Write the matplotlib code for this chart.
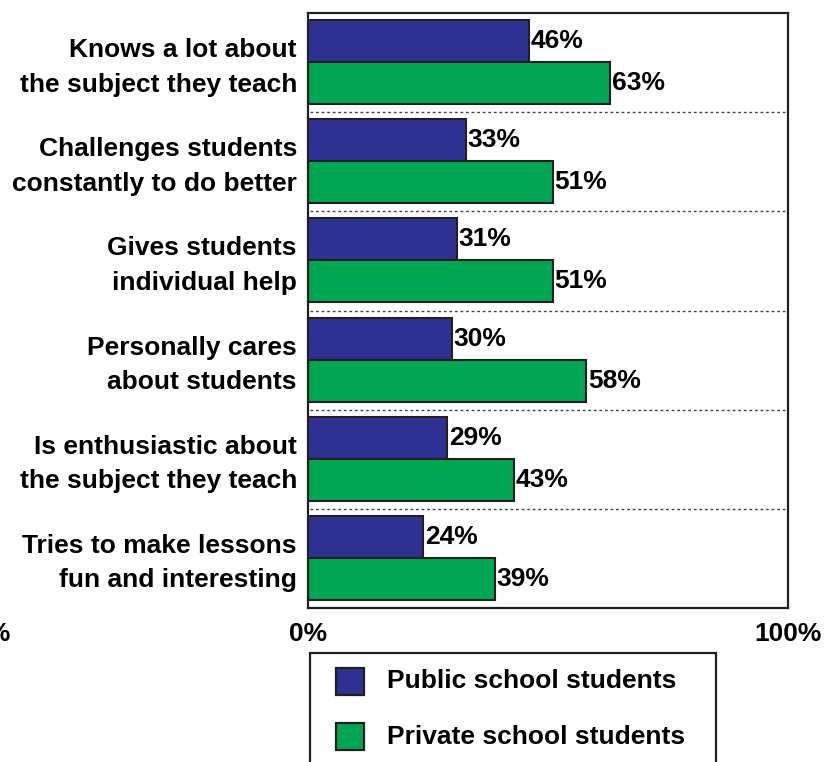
import matplotlib
matplotlib.use("Agg")
import matplotlib.pyplot as plt
from matplotlib.patches import Rectangle

categories = [
    "Knows a lot about\nthe subject they teach",
    "Challenges students\nconstantly to do better",
    "Gives students\nindividual help",
    "Personally cares\nabout students",
    "Is enthusiastic about\nthe subject they teach",
    "Tries to make lessons\nfun and interesting",
]
public = [46, 33, 31, 30, 29, 24]
private = [63, 51, 51, 58, 43, 39]
series_names = ["Public school students", "Private school students"]
xtick_labels = ["0%", "100%"]

BLUE = "#2E3192"
GREEN = "#00A651"
EDGE = "#231F20"

plt.rcParams["font.family"] = ["Liberation Sans", "DejaVu Sans"]
plt.rcParams["font.weight"] = "bold"

W, H = 825, 762
fig = plt.figure(figsize=(W / 100, H / 100), dpi=100)
L, R, T, B = 308, 788, 13, 608
ax = fig.add_axes([L / W, 1 - B / H, (R - L) / W, (B - T) / H])

n = len(categories)
bh = 0.424
yb = [i + 0.283 for i in range(n)]
yg = [i + 0.707 for i in range(n)]
ax.barh(yb, public, height=bh, color=BLUE, edgecolor=EDGE, linewidth=1.5)
ax.barh(yg, private, height=bh, color=GREEN, edgecolor=EDGE, linewidth=1.5)

fs = 19
for y, v in zip(yb, public):
    ax.text(v + 0.3, y, f"{v}%", va="center", ha="left", fontsize=fs, fontweight="bold")
for y, v in zip(yg, private):
    ax.text(v + 0.3, y, f"{v}%", va="center", ha="left", fontsize=fs, fontweight="bold")

for i in range(1, n):
    ax.axhline(i, color="#444444", linestyle=(0, (2, 2)), linewidth=1.0, xmin=0.005, xmax=1)

ax.set_xlim(0, 100)
ax.set_ylim(n, 0)
ax.set_xticks([0, 100])
ax.set_xticklabels(xtick_labels, fontsize=fs, fontweight="bold")
ax.set_yticks([i + 0.47 for i in range(n)])
ax.set_yticklabels(categories, fontsize=fs, fontweight="bold", linespacing=1.55)
ax.tick_params(axis="both", length=0)
ax.tick_params(axis="y", pad=8)
ax.tick_params(axis="x", pad=10)
for s in ax.spines.values():
    s.set_color(EDGE)
    s.set_linewidth(1.6)

# cut-off label at far left
fig.text(11 / W, 1 - 634 / H, "100%", ha="right", va="center", fontsize=fs, fontweight="bold")

# legend box
fig.add_artist(Rectangle((310 / W, -0.05), (716 - 310) / W, (H - 653) / H + 0.05,
                         transform=fig.transFigure, fill=False, ec=EDGE, lw=1.6, clip_on=False))
for (y0, y1, c, name) in [(668, 695, BLUE, series_names[0]), (723, 750, GREEN, series_names[1])]:
    fig.add_artist(Rectangle((336 / W, 1 - y1 / H), (364 - 336) / W, (y1 - y0) / H,
                             transform=fig.transFigure, fc=c, ec=EDGE, lw=1.6))
    fig.text(387 / W, 1 - ((y0 + y1) / 2) / H, name, ha="left", va="center",
             fontsize=fs, fontweight="bold")

fig.savefig("out.png", dpi=100)
